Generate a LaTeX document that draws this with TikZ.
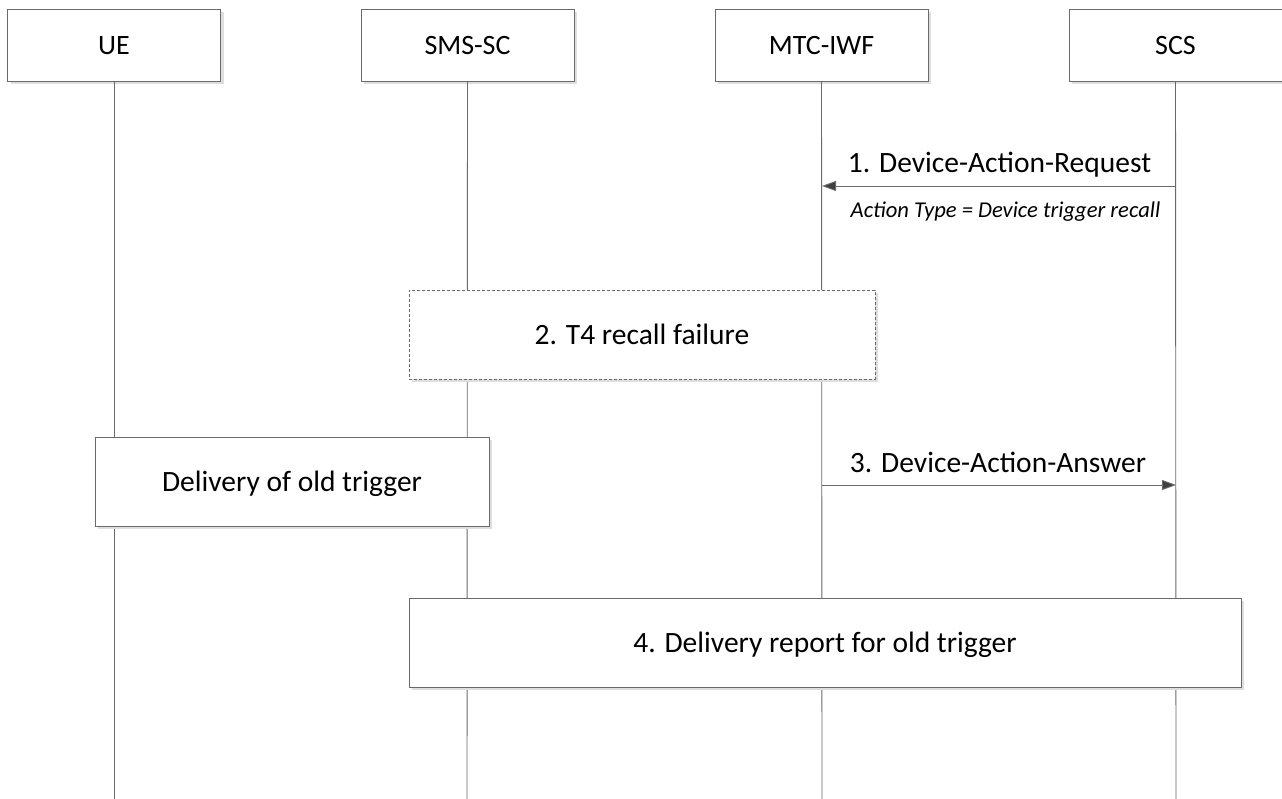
\documentclass[tikz,border=0pt]{standalone}
\usepackage{fontspec}
\setmainfont{Carlito}
\usetikzlibrary{shadows,arrows.meta}
\definecolor{ln}{HTML}{6A6A6A}
\definecolor{ar}{HTML}{404040}
\tikzset{
  box/.style={draw=ln, line width=0.9pt, fill=white, inner sep=0pt, font=\fontsize{29.5}{33}\selectfont,
    text height=22pt, text depth=2pt,
    drop shadow={shadow xshift=3pt, shadow yshift=-3pt, fill=black!13, opacity=1}},
  hbox/.style={box, font=\fontsize{28}{32}\selectfont, minimum width=213pt, minimum height=72pt},
  dbox/.style={box, dashed, dash pattern=on 3pt off 2pt},
  life/.style={draw=ln, line width=0.9pt},
  msg/.style={draw=ln, line width=0.9pt, -{Triangle[length=14pt,width=10pt,fill=ar]}},
  lbl/.style={font=\fontsize{29.5}{33}\selectfont, inner sep=0pt, anchor=base},
  sub/.style={font=\fontsize{22.6}{26}\selectfont\itshape, inner sep=0pt, anchor=base}
}
\begin{document}
\begin{tikzpicture}[x=1pt,y=-1pt]
\useasboundingbox (0,0) rectangle (1282,799);
% lifelines
\coordinate (ueb) at (114,799);
\coordinate (smsb) at (467,799);
\coordinate (mtcb) at (822,799);
\coordinate (scsb) at (1176,799);
\node[hbox] (ue) at (114,45) {UE};
\node[hbox] (sms) at (467.5,45) {SMS-SC};
\node[hbox] (mtc) at (821.5,45) {MTC-IWF};
\node[hbox] (scs) at (1175.5,45) {SCS};
\draw[life] (ue.south) -- (ueb);
\draw[life] (sms.south) -- (smsb);
\draw[life] (mtc.south) -- (mtcb);
\draw[life] (scs.south) -- (scsb);
% message 1
\coordinate (m1s) at (1176,186);
\coordinate (m1e) at (822,186);
\draw[msg] (m1s) -- (m1e);
\node[lbl] (l1) at (999.5,173) {1. Device-Action-Request};
\node[sub] (s1) at (1005.5,218) {Action Type = Device trigger recall};
% box 2
\node[dbox, minimum width=466pt, minimum height=89pt] (b2) at (642,334.5) {2. T4 recall failure};
% delivery of old trigger
\node[box, minimum width=394pt, minimum height=89pt] (b3) at (292,481.5) {Delivery of old trigger};
% message 3
\coordinate (m3s) at (822,485);
\coordinate (m3e) at (1176,485);
\draw[msg] (m3s) -- (m3e);
\node[lbl] (l3) at (998,472) {3. Device-Action-Answer};
% box 4
\node[box, minimum width=832pt, minimum height=89pt] (b4) at (825,642.5) {4. Delivery report for old trigger};
\end{tikzpicture}
\end{document}
